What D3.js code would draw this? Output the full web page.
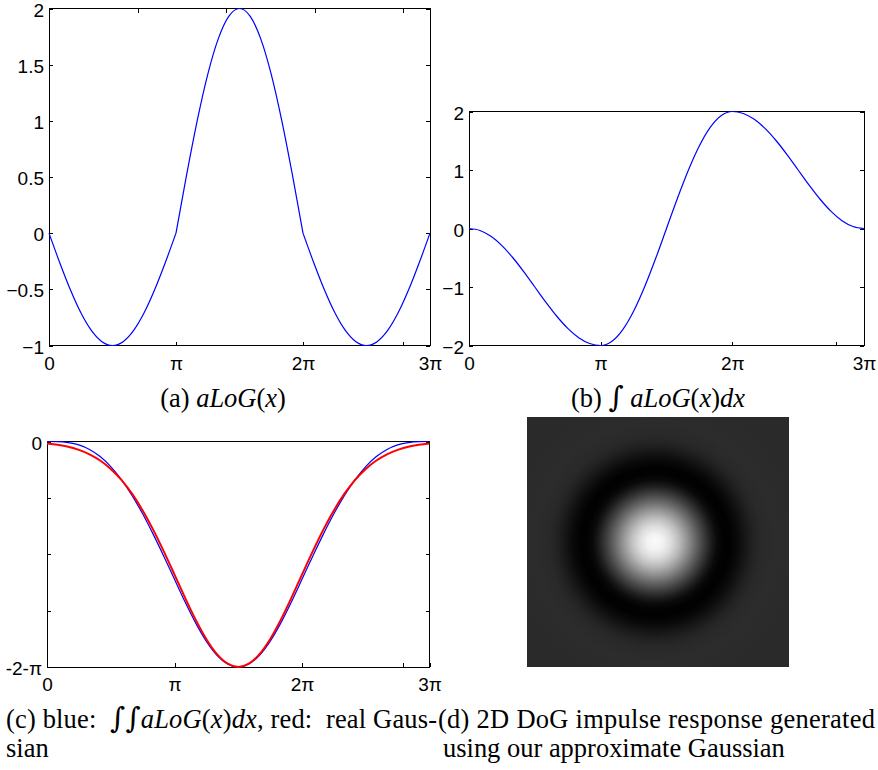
<!DOCTYPE html>
<html>
<head>
<meta charset="utf-8">
<script src="https://cdn.jsdelivr.net/npm/d3@7"></script>
<style>
  body { margin: 0; background: #fff; }
  svg { display: block; }
  .tick text { font-family: "Liberation Sans", Arial, sans-serif; font-size: 19px; fill: #000; }
  .caption { font-family: "Liberation Serif", "Times New Roman", serif; fill: #000; white-space: pre; }
</style>
</head>
<body>
<div id="chart"></div>
<script>
const width = 878, height = 770;

// sample positions, in units of pi
const xPi = [0, 0.0833, 0.1667, 0.25, 0.3333, 0.4167, 0.5, 0.5833, 0.6667, 0.75, 0.8333, 0.9167,
  1, 1.0833, 1.1667, 1.25, 1.3333, 1.4167, 1.5, 1.5833, 1.6667, 1.75, 1.8333, 1.9167,
  2, 2.0833, 2.1667, 2.25, 2.3333, 2.4167, 2.5, 2.5833, 2.6667, 2.75, 2.8333, 2.9167, 3];

// (a) approximate LoG, with corners at pi and 2pi (sample index 12 and 24)
const aLoG = [0, -0.259, -0.5, -0.707, -0.866, -0.966, -1, -0.966, -0.866, -0.707, -0.5, -0.259,
  0, 0.518, 1, 1.414, 1.732, 1.932, 2, 1.932, 1.732, 1.414, 1, 0.518,
  0, -0.259, -0.5, -0.707, -0.866, -0.966, -1, -0.966, -0.866, -0.707, -0.5, -0.259, 0];
const aLoGCorners = [12, 24];

// (b) first integral
const intLoG = [0, -0.034, -0.134, -0.293, -0.5, -0.741, -1, -1.259, -1.5, -1.707, -1.866, -1.966,
  -2, -1.932, -1.732, -1.414, -1, -0.518, 0, 0.518, 1, 1.414, 1.732, 1.932,
  2, 1.966, 1.866, 1.707, 1.5, 1.259, 1, 0.741, 0.5, 0.293, 0.134, 0.034, 0];

// (c) double integral (blue) and real gaussian (red)
const dblIntLoG = [0, -0.003, -0.024, -0.078, -0.181, -0.343, -0.571, -0.867, -1.228, -1.649, -2.118, -2.621,
  -3.142, -3.659, -4.142, -4.556, -4.874, -5.074, -5.142, -5.074, -4.874, -4.556, -4.142, -3.659,
  -3.142, -2.621, -2.118, -1.649, -1.228, -0.867, -0.571, -0.343, -0.181, -0.078, -0.024, -0.003, 0];
const realGauss = [-0.045, -0.075, -0.121, -0.191, -0.292, -0.433, -0.625, -0.875, -1.190, -1.571, -2.015, -2.510,
  -3.035, -3.566, -4.068, -4.507, -4.849, -5.067, -5.142, -5.067, -4.849, -4.507, -4.068, -3.566,
  -3.035, -2.510, -2.015, -1.571, -1.190, -0.875, -0.625, -0.433, -0.292, -0.191, -0.121, -0.075, -0.045];

// ticks
const xTickVals = [0, 1, 2, 3];
const xTickLabels = ["0", "π", "2π", "3π"];
const extraXTicks = [2.79];
const topTicksA = [0.698, 1.395, 2.093, 2.79];

const yTicksA = [2, 1.5, 1, 0.5, 0, -0.5, -1];
const yLabelsA = ["2", "1.5", "1", "0.5", "0", "−0.5", "−1"];
const yTicksB = [2, 1, 0, -1, -2];
const yLabelsB = ["2", "1", "0", "−1", "−2"];
const yTicksC = [0, -1.2854, -2.5708, -3.8562, -5.1416];
const yLabelsC = ["0", "", "", "", "-2-π"];

// (d) radial profile of the DoG impulse response: radius (fraction of half width), grey level
const dogR = [0, 0.061, 0.122, 0.183, 0.244, 0.305, 0.366, 0.427, 0.473, 0.519, 0.565, 0.626, 0.687, 0.748, 0.809, 0.916, 1.145];
const dogGray = [250, 242, 220, 188, 148, 106, 66, 30, 10, 2, 1, 9, 22, 34, 41, 44, 42];

const svg = d3.select("#chart")
  .append("svg")
  .attr("width", width)
  .attr("height", height);

const defs = svg.append("defs");

function labelFor(vals, labels) {
  return v => {
    const i = vals.indexOf(v);
    return i >= 0 ? labels[i] : "";
  };
}

function drawPanel(p) {
  const g = svg.append("g");
  const x = d3.scaleLinear().domain([0, 3]).range([p.left, p.right]);
  const y = d3.scaleLinear().domain(p.yDomain).range([p.bottom, p.top]);

  // box
  g.append("rect")
    .attr("x", p.left).attr("y", p.top)
    .attr("width", p.right - p.left).attr("height", p.bottom - p.top)
    .attr("fill", "none").attr("stroke", "#000")
    .attr("shape-rendering", "crispEdges");

  const clean = a => a.select(".domain").remove();
  const crisp = a => a.selectAll("line").attr("shape-rendering", "crispEdges");

  g.append("g")
    .attr("transform", `translate(0,${p.bottom})`)
    .call(d3.axisBottom(x)
      .tickValues(xTickVals.concat(extraXTicks))
      .tickFormat(labelFor(xTickVals, xTickLabels))
      .tickSizeInner(-4).tickSizeOuter(0).tickPadding(11))
    .call(clean).call(crisp);

  if (p.topTicks) {
    g.append("g")
      .attr("transform", `translate(0,${p.top})`)
      .call(d3.axisTop(x).tickValues(p.topTicks).tickFormat("")
        .tickSizeInner(-4).tickSizeOuter(0))
      .call(clean).call(crisp);
  }

  g.append("g")
    .attr("transform", `translate(${p.left},0)`)
    .call(d3.axisLeft(y).tickValues(p.yTicks)
      .tickFormat(labelFor(p.yTicks, p.yLabels))
      .tickSizeInner(-4).tickSizeOuter(0).tickPadding(5))
    .call(clean).call(crisp)
    .call(a => a.selectAll("text").attr("dy", "0.4em"));

  g.append("g")
    .attr("transform", `translate(${p.right},0)`)
    .call(d3.axisRight(y).tickValues(p.yTicks).tickFormat("")
      .tickSizeInner(-4).tickSizeOuter(0))
    .call(clean).call(crisp);

  const line = d3.line()
    .x(d => x(xPi[d.i]))
    .y(d => y(d.v))
    .curve(d3.curveMonotoneX);

  p.series.forEach(s => {
    const pts = s.values.map((v, i) => ({ i, v }));
    // split at corners so the smoothing keeps them sharp
    const cuts = [0].concat(s.corners || [], [pts.length - 1]);
    const pieces = d3.pairs(cuts).map(([a, b]) => pts.slice(a, b + 1));
    g.append("g").selectAll("path")
      .data(pieces)
      .join("path")
      .attr("d", line)
      .attr("fill", "none")
      .attr("stroke", s.color)
      .attr("stroke-width", s.width)
      .attr("stroke-linejoin", "round");
  });
}

drawPanel({
  left: 49, right: 430, top: 8.5, bottom: 345.5,
  yDomain: [-1, 2], yTicks: yTicksA, yLabels: yLabelsA, topTicks: topTicksA,
  series: [{ values: aLoG, corners: aLoGCorners, color: "#0000ff", width: 1.2 }]
});

drawPanel({
  left: 469, right: 864, top: 111.5, bottom: 345.5,
  yDomain: [-2, 2], yTicks: yTicksB, yLabels: yLabelsB,
  series: [{ values: intLoG, color: "#0000ff", width: 1.2 }]
});

drawPanel({
  left: 47, right: 429.5, top: 441.5, bottom: 667,
  yDomain: [-5.1416, 0], yTicks: yTicksC, yLabels: yLabelsC,
  series: [
    { values: dblIntLoG, color: "#0000ff", width: 1.2 },
    { values: realGauss, color: "#ff0000", width: 2 }
  ]
});

// (d) impulse response image
const dog = { left: 527, top: 417, right: 789, bottom: 667, cx: 655, cy: 542 };
const rScale = d3.scaleLinear().domain([0, 1]).range([0, (dog.right - dog.left) / 2]);
const rMax = dogR[dogR.length - 1];
const grad = defs.append("radialGradient")
  .attr("id", "dog-grad")
  .attr("gradientUnits", "userSpaceOnUse")
  .attr("cx", dog.cx).attr("cy", dog.cy)
  .attr("r", rScale(rMax));
grad.selectAll("stop")
  .data(dogR)
  .join("stop")
  .attr("offset", d => d / rMax)
  .attr("stop-color", (d, i) => d3.rgb(dogGray[i], dogGray[i], dogGray[i]).formatHex());

svg.append("rect")
  .attr("x", dog.left).attr("y", dog.top)
  .attr("width", dog.right - dog.left).attr("height", dog.bottom - dog.top)
  .attr("fill", "url(#dog-grad)");

// captions
function caption(x, yBase, anchor, size, parts) {
  const t = svg.append("text")
    .attr("class", "caption")
    .attr("x", x).attr("y", yBase)
    .attr("text-anchor", anchor)
    .attr("font-size", size);
  parts.forEach(([s, style]) => {
    const ts = t.append("tspan").text(s);
    if (style === "i") ts.attr("font-style", "italic");
    if (style === "int") ts.attr("font-family", "DejaVu Serif").attr("font-size", "1.1em");
  });
  return t;
}

// pick the caption size so the plain second line of (d) matches its width
const probe = caption(443, 757, "start", 20, [["using our approximate Gaussian", ""]]);
const capSize = 20 * 342 / probe.node().getComputedTextLength();
probe.attr("font-size", capSize);

const logParts = [["aLoG", "i"], ["(", ""], ["x", "i"], [")", ""]];

caption(223, 407, "middle", capSize, [["(a) ", ""]].concat(logParts));
caption(658, 407, "middle", capSize,
  [["(b) ", ""], ["∫", "int"], [" ", ""]].concat(logParts, [["dx", "i"]]));

caption(6, 728, "start", capSize,
  [["(c) blue:  ", ""], ["∫∫", "int"]].concat(logParts,
    [["dx", "i"], [", red:  real Gaus-", ""]]))
  .attr("textLength", 431).attr("lengthAdjust", "spacing");
caption(6, 757, "start", capSize, [["sian", ""]]);

caption(438, 728, "start", capSize, [["(d) 2D DoG impulse response generated", ""]])
  .attr("textLength", 437).attr("lengthAdjust", "spacing");
</script>
</body>
</html>
